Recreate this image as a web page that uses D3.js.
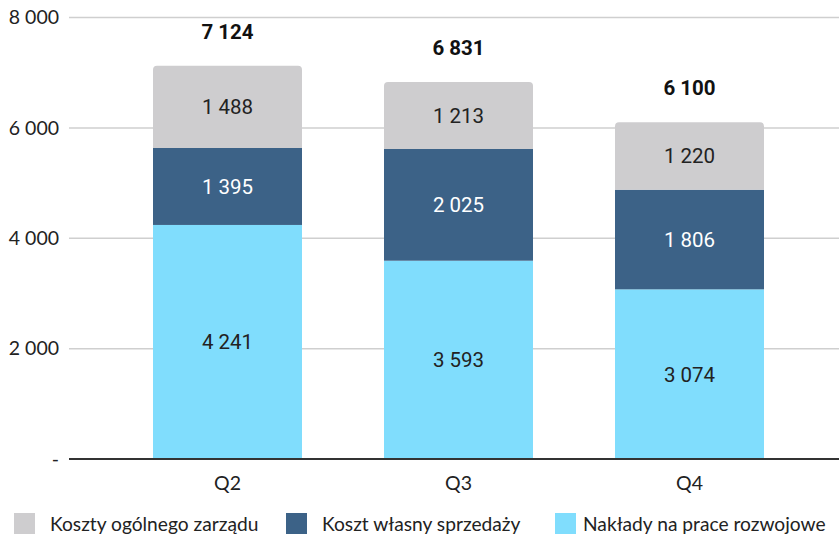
<!DOCTYPE html>
<html>
<head>
<meta charset="utf-8">
<script src="https://cdn.jsdelivr.net/npm/d3@7"></script>
<style>
  html, body { margin: 0; padding: 0; background: #fff; }
  svg { display: block; }
</style>
</head>
<body>
<svg id="chart" width="839" height="534"></svg>
<script>
// Quarters and cost components (values in thousands)
const quarters = ["Q2", "Q3", "Q4"];
const seriesNames = ["Nakłady na prace rozwojowe", "Koszt własny sprzedaży", "Koszty ogólnego zarządu"];
const rozwojowe = [4241, 3593, 3074];
const sprzedaz = [1395, 2025, 1806];
const zarzad = [1488, 1213, 1220];
const totals = [7124, 6831, 6100];
const yTicks = [0, 2000, 4000, 6000, 8000];
const legendOrder = ["Koszty ogólnego zarządu", "Koszt własny sprzedaży", "Nakłady na prace rozwojowe"];

const colors = {
  "Nakłady na prace rozwojowe": "#80ddfd",
  "Koszt własny sprzedaży": "#3c6287",
  "Koszty ogólnego zarządu": "#cecdcf"
};
const labelColors = {
  "Nakłady na prace rozwojowe": "#222",
  "Koszt własny sprzedaży": "#fff",
  "Koszty ogólnego zarządu": "#222"
};

const rows = quarters.map((q, i) => ({
  q,
  "Nakłady na prace rozwojowe": rozwojowe[i],
  "Koszt własny sprzedaży": sprzedaz[i],
  "Koszty ogólnego zarządu": zarzad[i],
  total: totals[i]
}));

const svg = d3.select("#chart");
const fmt = v => v === 0 ? "-" : d3.format(",")(v).replace(/,/g, " ");

const x = d3.scaleBand().domain(quarters).range([112, 805]).paddingInner(0.355).paddingOuter(0.1775);
const y = d3.scaleLinear().domain([0, 8000]).range([459, 17.5]);

// gridlines
svg.append("g").selectAll("line").data(yTicks.filter(t => t > 0)).join("line")
  .attr("x1", 69).attr("x2", 839)
  .attr("y1", d => y(d)).attr("y2", d => y(d))
  .attr("stroke", "#cfcfcf").attr("stroke-width", 1.5);

// y axis labels
const yAxis = d3.axisLeft(y).tickValues(yTicks).tickSize(0).tickPadding(0).tickFormat(fmt);
const yg = svg.append("g").attr("transform", "translate(59,0)").call(yAxis);
yg.select(".domain").remove();
yg.selectAll("text")
  .attr("font-family", "Lato, 'Open Sans', sans-serif")
  .attr("font-size", 19.5).attr("fill", "#222").attr("dy", "0.32em");

// stacked bars
const stack = d3.stack().keys(seriesNames);
const stacked = stack(rows);
const r = 4;

stacked.forEach((layer, li) => {
  const isTop = li === stacked.length - 1;
  const g = svg.append("g");
  layer.forEach(seg => {
    const x0 = x(seg.data.q), w = x.bandwidth();
    const yt = y(seg[1]), yb = y(seg[0]);
    if (isTop) {
      const p = d3.path();
      p.moveTo(x0, yb);
      p.lineTo(x0, yt + r);
      p.arcTo(x0, yt, x0 + r, yt, r);
      p.lineTo(x0 + w - r, yt);
      p.arcTo(x0 + w, yt, x0 + w, yt + r, r);
      p.lineTo(x0 + w, yb);
      p.closePath();
      g.append("path").attr("d", p.toString()).attr("fill", colors[layer.key]);
    } else {
      g.append("rect").attr("x", x0).attr("y", yt).attr("width", w).attr("height", yb - yt)
        .attr("fill", colors[layer.key]);
    }
    g.append("text")
      .attr("x", x0 + w / 2).attr("y", (yt + yb) / 2).attr("dy", "0.36em")
      .attr("text-anchor", "middle")
      .attr("font-family", "Roboto, sans-serif").attr("font-size", 20.5)
      .attr("fill", labelColors[layer.key])
      .text(fmt(seg[1] - seg[0]));
  });
});

// totals above bars
svg.append("g").selectAll("text").data(rows).join("text")
  .attr("x", d => x(d.q) + x.bandwidth() / 2)
  .attr("y", d => y(d.total) - 27)
  .attr("text-anchor", "middle")
  .attr("font-family", "Roboto, sans-serif").attr("font-weight", "bold").attr("font-size", 20.5)
  .attr("fill", "#111")
  .text(d => fmt(d.total));

// baseline
svg.append("line").attr("x1", 69).attr("x2", 839).attr("y1", y(0)).attr("y2", y(0))
  .attr("stroke", "#333").attr("stroke-width", 2);

// x axis labels
const xAxis = d3.axisBottom(x).tickSize(0).tickPadding(0);
const xg = svg.append("g").attr("transform", `translate(0,${y(0)})`).call(xAxis);
xg.select(".domain").remove();
xg.selectAll("text")
  .attr("y", 31).attr("dy", 0)
  .attr("font-family", "Lato, 'Open Sans', sans-serif")
  .attr("font-size", 19.5).attr("fill", "#222");

// legend
const legendX = [14, 286, 555];
const legendTextX = [50, 322, 583];
const lg = svg.append("g");
legendOrder.forEach((name, i) => {
  lg.append("rect").attr("x", legendX[i]).attr("y", 513).attr("width", 21).attr("height", 21)
    .attr("fill", colors[name]);
  lg.append("text").attr("x", legendTextX[i]).attr("y", 531)
    .attr("font-family", "Lato, 'Open Sans', sans-serif").attr("font-size", 19.2)
    .attr("fill", "#222").text(name);
});
</script>
</body>
</html>
